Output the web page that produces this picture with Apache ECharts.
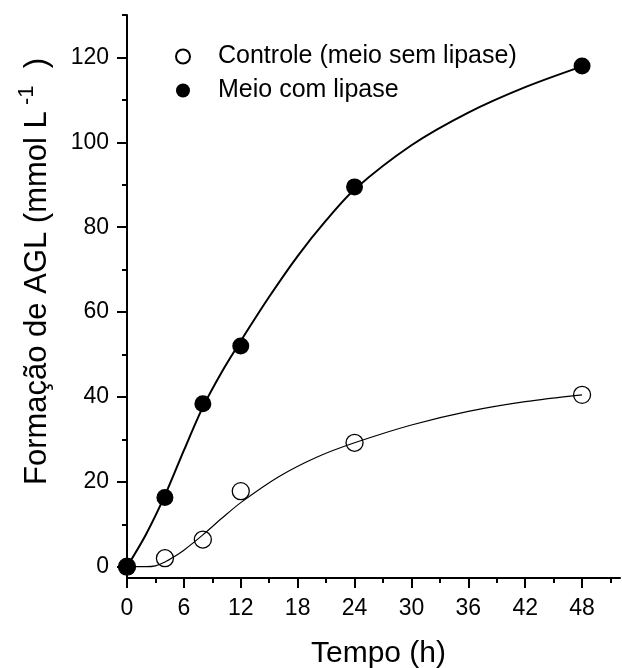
<!DOCTYPE html>
<html>
<head>
<meta charset="utf-8">
<script src="https://cdn.jsdelivr.net/npm/echarts@6/dist/echarts.min.js"></script>
<style>
  html, body { margin: 0; padding: 0; background: #fff; }
  #chart { width: 622px; height: 668px; }
</style>
</head>
<body>
<div id="chart"></div>
<script>
// pontos medidos
var horas = [0, 4, 8, 12, 24, 48];
var controle = [0, 2.0, 6.4, 17.8, 29.2, 40.5];
var comLipase = [0, 16.3, 38.4, 52.0, 89.5, 118.0];

// curvas ajustadas
var ajusteControleX = [0, 2, 3, 4, 5, 6, 8, 10, 12, 16, 20, 24, 30, 36, 42, 48];
var ajusteControleY = [0, 0, 0.2, 1.1, 2.4, 3.9, 7.5, 11.4, 15.1, 21.2, 25.8, 29.2, 33.4, 36.6, 38.9, 40.5];
var ajusteLipaseX = [0, 2, 4, 6, 8, 10, 12, 15, 18, 21, 24, 30, 36, 42, 48];
var ajusteLipaseY = [0, 7.6, 16.8, 27.4, 37.6, 45.9, 53.2, 63.6, 73.2, 81.6, 88.9, 99.3, 107.0, 113.0, 117.9];

// eixos
var xMajor = [0, 6, 12, 18, 24, 30, 36, 42, 48];
var xMinor = [3, 9, 15, 21, 27, 33, 39, 45, 51];
var yMajor = [0, 20, 40, 60, 80, 100, 120];
var yMinor = [10, 30, 50, 70, 90, 110, 130];

function pares(xs, ys) {
    return xs.map(function (x, i) { return [x, ys[i]]; });
}

var fonte = 'Liberation Sans, Arial, sans-serif';
var chart = echarts.init(document.getElementById('chart'));

var linhaEixo = { show: true, onZero: false, lineStyle: { color: '#000', width: 2 } };

var option = {
    backgroundColor: '#fff',
    animation: false,
    grid: { left: 127, right: 2, top: 15, bottom: 90, outerBoundsMode: 'none', containLabel: false },
    legend: {
        orient: 'vertical',
        left: 170,
        top: 39,
        itemWidth: 14,
        itemHeight: 14,
        itemGap: 9,
        data: ['Controle (meio sem lipase)', 'Meio com lipase'],
        textStyle: { fontFamily: fonte, fontSize: 25, color: '#000', padding: [0, 0, 0, 23], lineHeight: 25 }
    },
    xAxis: [{
        type: 'value', min: 0, max: 52,
        name: 'Tempo (h)', nameLocation: 'middle', nameGap: 61,
        nameTextStyle: { fontFamily: fonte, fontSize: 30, color: '#000', padding: [0, 0, 0, 10] },
        axisLine: linhaEixo,
        axisTick: { customValues: xMajor, length: 10, lineStyle: { color: '#000', width: 2 } },
        axisLabel: { customValues: xMajor, margin: 19, fontFamily: fonte, fontSize: 23, color: '#000' },
        splitLine: { show: false }
    }, {
        type: 'value', min: 0, max: 52, position: 'bottom',
        axisLine: { show: false, onZero: false },
        axisTick: { customValues: xMinor, length: 5, lineStyle: { color: '#000', width: 2 } },
        axisLabel: { show: false },
        splitLine: { show: false }
    }],
    yAxis: [{
        type: 'value', min: -2.66, max: 130,
        name: 'Formação de AGL (mmol L{sup| -1}{p|  )}', nameLocation: 'middle', nameGap: 64,
        nameTextStyle: {
            fontFamily: fonte, fontSize: 31, color: '#000', lineHeight: 44,
            padding: [0, 0, 0, 50],
            rich: {
                sup: { fontFamily: fonte, fontSize: 22, color: '#000', verticalAlign: 'top', lineHeight: 22 },
                p: { fontFamily: fonte, fontSize: 31, color: '#000', lineHeight: 44 }
            }
        },
        axisLine: linhaEixo,
        axisTick: { customValues: yMajor, length: 10, lineStyle: { color: '#000', width: 2 } },
        axisLabel: { customValues: yMajor, margin: 18, fontFamily: fonte, fontSize: 23, color: '#000' },
        splitLine: { show: false }
    }, {
        type: 'value', min: -2.66, max: 130, position: 'left',
        axisLine: { show: false, onZero: false },
        axisTick: { customValues: yMinor, length: 5, lineStyle: { color: '#000', width: 2 } },
        axisLabel: { show: false },
        splitLine: { show: false }
    }],
    series: [
        {
            name: 'ajuste controle', type: 'line', smooth: 0.3, showSymbol: false, z: 2,
            data: pares(ajusteControleX, ajusteControleY),
            lineStyle: { color: '#000', width: 1.2 }
        },
        {
            name: 'ajuste lipase', type: 'line', smooth: 0.3, showSymbol: false, z: 2,
            data: pares(ajusteLipaseX, ajusteLipaseY),
            lineStyle: { color: '#000', width: 2 }
        },
        {
            name: 'Controle (meio sem lipase)', type: 'scatter', symbol: 'circle', symbolSize: 17, z: 3,
            data: pares(horas, controle),
            itemStyle: { color: 'rgba(255,255,255,0)', borderColor: '#000', borderWidth: 1.3, opacity: 1 }
        },
        {
            name: 'Meio com lipase', type: 'scatter', symbol: 'circle', symbolSize: 17, z: 4,
            data: pares(horas, comLipase),
            itemStyle: { color: '#000', opacity: 1 }
        }
    ]
};

chart.setOption(option);
</script>
</body>
</html>
